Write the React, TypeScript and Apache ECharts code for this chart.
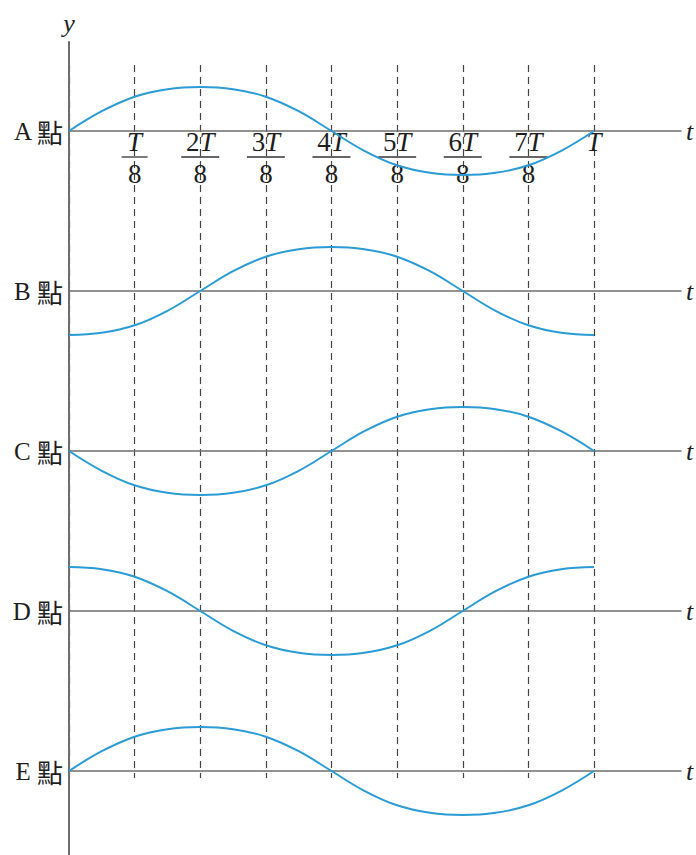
import React, { useEffect, useRef } from "react";
import * as echarts from "echarts";

// time in units of T/8 (sampled every T/16)
const T_STEPS = [0, 0.5, 1, 1.5, 2, 2.5, 3, 3.5, 4, 4.5, 5, 5.5, 6, 6.5, 7, 7.5, 8];
const POINT_NAMES = ["A", "B", "C", "D", "E"];
// displacement (amplitude = 1) every T/16
const DISP_A = [0, 0.45, 0.78, 0.95, 1, 0.95, 0.78, 0.45, 0, -0.45, -0.78, -0.95, -1, -0.95, -0.78, -0.45, 0];
const DISP_B = [-1, -0.95, -0.78, -0.45, 0, 0.45, 0.78, 0.95, 1, 0.95, 0.78, 0.45, 0, -0.45, -0.78, -0.95, -1];
const DISP_C = [0, -0.45, -0.78, -0.95, -1, -0.95, -0.78, -0.45, 0, 0.45, 0.78, 0.95, 1, 0.95, 0.78, 0.45, 0];
const DISP_D = [1, 0.95, 0.78, 0.45, 0, -0.45, -0.78, -0.95, -1, -0.95, -0.78, -0.45, 0, 0.45, 0.78, 0.95, 1];
const DISP_E = [0, 0.45, 0.78, 0.95, 1, 0.95, 0.78, 0.45, 0, -0.45, -0.78, -0.95, -1, -0.95, -0.78, -0.45, 0];
const DISPS = [DISP_A, DISP_B, DISP_C, DISP_D, DISP_E];
// tick labels along A's time axis (multiples of T/8)
const TICK_NUMERATORS = ["", "", "2", "3", "4", "5", "6", "7"];

const SERIF = "'Liberation Serif', 'DejaVu Serif', serif";
const CJK = "'Noto Sans CJK TC', 'Noto Sans CJK SC', sans-serif";
const CURVE = "#2a9bd5";
const AXIS = "#6e6e6e";
const TEXT = "#1e1e1e";

export default function App() {
  const ref = useRef<HTMLDivElement>(null);
  useEffect(() => {
    if (!ref.current) return;
    const chart = echarts.init(ref.current, undefined, { renderer: "svg" });
    const left = 69;
    const unitX = (594 - 69) / 8;
    const rowWidth = 612;
    const rowMax = rowWidth / unitX;
    const firstBase = 131;
    const rowGap = 160;
    const half = 88;

    const grids: any[] = [
      { left, top: 42, width: rowWidth, height: 813 },
      { left, top: 65, width: unitX * 8, height: 713 },
    ];
    const xAxes: any[] = [
      { gridIndex: 0, type: "value", show: false, min: 0, max: rowMax },
      {
        gridIndex: 1,
        type: "value",
        min: 0,
        max: 8,
        interval: 1,
        axisLine: { show: false },
        axisTick: { show: false },
        axisLabel: { show: false },
        splitLine: {
          show: true,
          lineStyle: { type: [7, 5], color: "#444", width: 1.2 },
        },
      },
    ];
    const yAxes: any[] = [
      {
        gridIndex: 0,
        type: "value",
        min: 0,
        max: 1,
        name: "y",
        nameLocation: "end",
        nameGap: 6,
        nameTextStyle: {
          fontFamily: SERIF,
          fontStyle: "italic",
          fontSize: 26,
          color: TEXT,
          align: "center",
        },
        axisLine: { show: true, lineStyle: { color: AXIS, width: 2 } },
        axisTick: { show: false },
        axisLabel: { show: false },
        splitLine: { show: false },
      },
      { gridIndex: 1, type: "value", show: false, min: 0, max: 1 },
    ];
    const series: any[] = [];

    POINT_NAMES.forEach((name, i) => {
      const gi = i + 2;
      grids.push({
        left,
        top: firstBase + i * rowGap - half,
        width: rowWidth,
        height: half,
      });
      xAxes.push({
        gridIndex: gi,
        type: "value",
        position: "bottom",
        min: 0,
        max: rowMax,
        interval: 1,
        name: "t",
        nameLocation: "end",
        nameGap: 5,
        nameTextStyle: {
          fontFamily: SERIF,
          fontStyle: "italic",
          fontSize: 26,
          color: TEXT,
        },
        axisLine: { show: true, onZero: false, lineStyle: { color: AXIS, width: 1.5 } },
        axisTick: { show: false },
        splitLine: { show: false },
        axisLabel: {
          show: i === 0,
          margin: 0,
          color: TEXT,
          showMinLabel: true,
          showMaxLabel: true,
          formatter: (v: number) => {
            const k = Math.round(v);
            if (Math.abs(v - k) > 1e-6) return "";
            if (k >= 1 && k <= 7) {
              const n = TICK_NUMERATORS[k];
              const num = n ? `{num|${n}}{it|T}` : "{it|T}";
              const bar = n ? "{barL|}" : "{barS|}";
              return `${num}\n${bar}\n{den|8}`;
            }
            if (k === 8) return "{it|T}";
            return "";
          },
          rich: {
            num: { fontFamily: SERIF, fontSize: 27, lineHeight: 22, color: TEXT },
            it: { fontFamily: SERIF, fontStyle: "italic", fontSize: 27, lineHeight: 22, color: TEXT },
            barS: { width: 26, height: 1.3, lineHeight: 8, fontSize: 1, backgroundColor: "#333" },
            barL: { width: 38, height: 1.3, lineHeight: 8, fontSize: 1, backgroundColor: "#333" },
            den: { fontFamily: SERIF, fontSize: 27, lineHeight: 26, color: TEXT },
          },
        },
      });
      yAxes.push({
        gridIndex: gi,
        type: "value",
        min: 0,
        max: 2,
        interval: 2,
        axisLine: { show: false },
        axisTick: { show: false },
        splitLine: { show: false },
        axisLabel: {
          margin: 6,
          showMinLabel: true,
          formatter: (v: number) => (Math.abs(v) < 1e-6 ? `{lat|${name} }{cjk|點}` : ""),
          rich: {
            lat: { fontFamily: SERIF, fontSize: 25, color: TEXT },
            cjk: { fontFamily: CJK, fontSize: 26, color: TEXT },
          },
        },
      });
      series.push({
        type: "line",
        name: `${name} 點`,
        xAxisIndex: gi,
        yAxisIndex: gi,
        data: T_STEPS.map((t, j) => [t, DISPS[i][j]]),
        smooth: 0.4,
        clip: false,
        symbol: "none",
        lineStyle: { color: CURVE, width: 2 },
        z: 5,
      });
    });

    chart.setOption({
      animation: false,
      backgroundColor: "#ffffff",
      grid: grids,
      xAxis: xAxes,
      yAxis: yAxes,
      series,
    });
    return () => chart.dispose();
  }, []);
  return (
    <div
      ref={ref}
      style={{ position: "absolute", left: 0, top: 0, width: 696, height: 855 }}
    />
  );
}
